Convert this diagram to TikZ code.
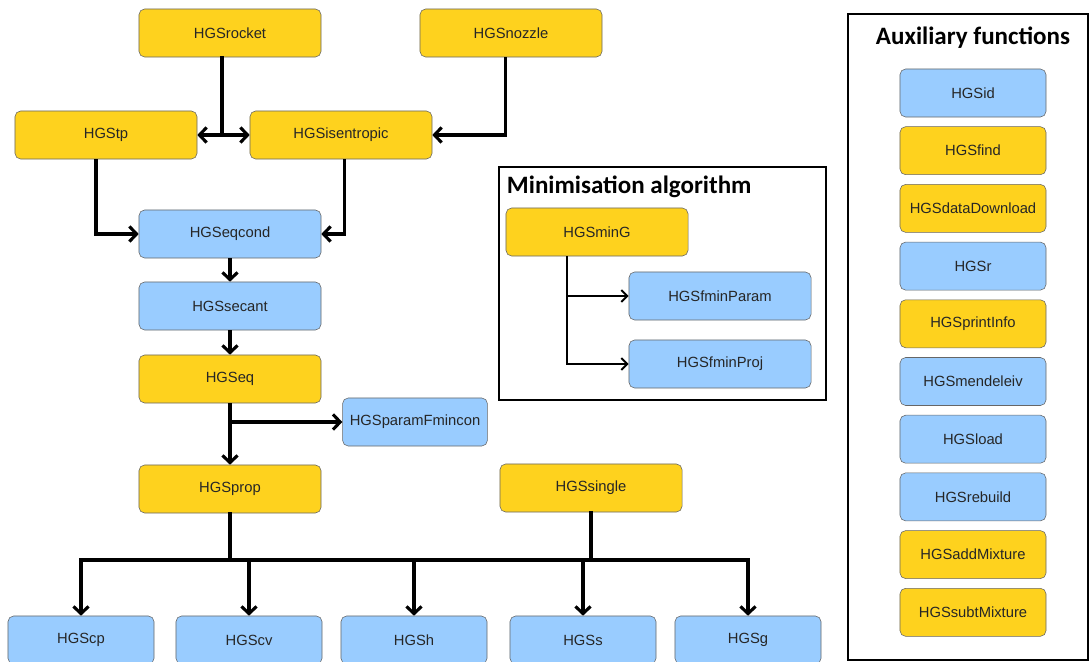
\documentclass[tikz,border=0pt]{standalone}
\usepackage{fontspec}
\setmainfont{Liberation Sans}
\newfontfamily\titlefont{Carlito}
\usetikzlibrary{positioning,arrows.meta}
\definecolor{hgsyellow}{RGB}{254,210,30}
\definecolor{hgsblue}{RGB}{153,204,255}

\begin{document}
\begin{tikzpicture}[x=0.025cm,y=-0.025cm,
  every node/.style={font=\fontsize{10.5}{12}\selectfont},
  box/.style={draw=black!60,rounded corners=4pt,align=center,minimum width=4.55cm,minimum height=1.2cm,text=black!85},
  ybox/.style={box,fill=hgsyellow},
  bbox/.style={box,fill=hgsblue},
  frame/.style={draw,line width=1.4pt,minimum width=#1},
  heading/.style={font=\titlefont\bfseries\fontsize{17.8}{20}\selectfont},
  arr/.style={-{Straight Barb[length=1.8mm,width=3.8mm]},line width=2.2pt},
  wire/.style={line width=2.2pt,line cap=rect},
  marr/.style={-{Straight Barb[length=1.5mm,width=3mm]},line width=1.4pt}
]
  \useasboundingbox (0,0) rectangle (1092,662);
  \clip (0,0) rectangle (1092,662);

  % main chain
  \node[ybox] (rocket) at (230,33) {HGSrocket};
  \node[ybox] (nozzle) at (511,33) {HGSnozzle};
  \node[ybox] (tp) at (106,135) {HGStp};
  \node[ybox] (isen) at (341,135) {HGSisentropic};
  \node[bbox] (eqcond) at (230,234) {HGSeqcond};
  \node[bbox] (secant) at (230,306) {HGSsecant};
  \node[ybox] (eq) at (230,379) {HGSeq};
  \node[bbox,minimum width=3.62cm] (param) at (415,422) {HGSparamFmincon};
  \node[ybox] (prop) at (230,489) {HGSprop};
  \node[ybox] (single) at (591,488) {HGSsingle};

  \coordinate (fork) at (222,135);
  \draw[wire] (rocket.south -| fork) -- (fork);
  \draw[arr] (fork) -- (tp.east);
  \draw[arr] (fork) -- (isen.west);
  \draw[arr] ([xshift=-0.13cm]nozzle.south) |- (isen.east);
  \draw[arr] ([xshift=-0.25cm]tp.south) |- (eqcond.west);
  \draw[arr] ([xshift=0.08cm]isen.south) |- (eqcond.east);
  \draw[arr] (eqcond) -- (secant);
  \draw[arr] (secant) -- (eq);
  \draw[arr] (eq) -- (prop);
  \coordinate (eqsplit) at (230,422);
  \draw[arr] (eqsplit) -- (param.west);

  % outputs
  \coordinate (bus) at (0,560);
  \foreach \n/\x in {cp/81,cv/249,h/414,s/583,g/748}{
    \node[bbox,minimum width=3.65cm] (\n) at (\x,640) {HGS\n};
    \draw[arr] (\n.north |- bus) -- (\n.north);
  }
  \draw[wire] (cp.north |- bus) -- (g.north |- bus);
  \draw[wire] (prop) -- (prop |- bus);
  \draw[wire] (single) -- (single |- bus);

  % minimisation
  \node[frame=8.175cm,minimum height=5.825cm] (minframe) at (662.5,283.5) {};
  \node[heading,anchor=west] (mintitle) at (502,187) {Minimisation algorithm};
  \node[ybox] (ming) at (597,232) {HGSminG};
  \node[bbox] (fparam) at (720,296) {HGSfminParam};
  \node[bbox] (fproj) at (720,364) {HGSfminProj};
  \coordinate (mtrunk) at (567,364);
  \draw[marr] (ming.south -| mtrunk) |- (fparam);
  \draw[marr] (ming.south -| mtrunk) |- (fproj);

  % auxiliary
  \node[frame=6cm,minimum height=16.15cm] (auxframe) at (968,337) {};
  \node[heading] (auxtitle) at (973,38) {Auxiliary functions};
  \foreach \n/\c [count=\i] in {id/bbox,find/ybox,dataDownload/ybox,r/bbox,printInfo/ybox,
      mendeleiv/bbox,load/bbox,rebuild/bbox,addMixture/ybox,subtMixture/ybox}
    \node[\c,minimum width=3.65cm] (\n) at (973,{93+(\i-1)*57.7}) {HGS\n};
\end{tikzpicture}
\end{document}
